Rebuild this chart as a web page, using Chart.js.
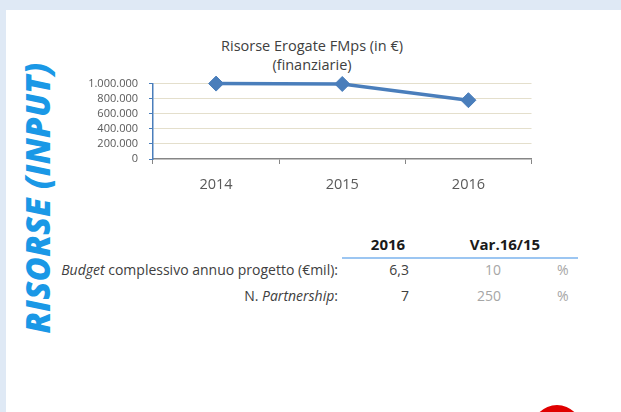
<!DOCTYPE html>
<html><head><meta charset="utf-8">
<script src="https://cdn.jsdelivr.net/npm/chart.js@4/dist/chart.umd.min.js"></script>
<style>
html,body{margin:0;padding:0;width:621px;height:412px;overflow:hidden;background:#dfe9f5;font-family:"Open Sans","Noto Sans",sans-serif;}
#panel{position:absolute;left:6px;top:10px;right:0;bottom:0;background:#fff;overflow:hidden;}
.abs{position:absolute;white-space:nowrap;}
#side{position:absolute;left:37px;top:198px;transform:translate(-50%,-50%) rotate(-90deg);font-weight:800;font-style:italic;font-size:33px;color:#1a98e6;white-space:nowrap;letter-spacing:0.3px;}
#title{position:absolute;left:162px;width:300px;top:36px;text-align:center;font-size:14.5px;line-height:19px;color:#404040;}
#chartBox{position:absolute;left:60px;top:66px;width:480px;height:133px;}
.hdr{font-weight:700;font-size:15px;color:#1a1a1a;}
.cell{font-size:14px;color:#404040;}
.gray{color:#a6a6a6;}
#hline{position:absolute;left:342px;top:257px;width:236px;height:2px;background:#9cc6f2;}
#blob{position:absolute;left:532px;top:405px;width:50px;height:50px;border-radius:50%;background:#e00000;}
</style></head>
<body>
<div id="panel"></div>
<div id="side">RISORSE (INPUT)</div>
<div id="title">Risorse Erogate FMps (in €)<br>(finanziarie)</div>
<div id="chartBox"><canvas id="c" width="480" height="133"></canvas></div>
<div id="table"></div>
<div id="hline"></div>
<div id="blob"></div>
<script>
// ---- chart data ----
const years = ['2014', '2015', '2016'];
const risorse = [1000000, 995000, 780000];
const yTickLabels = ['0', '200.000', '400.000', '600.000', '800.000', '1.000.000'];
const yMin = 0, yMax = 1000000, yStep = 200000;

// ---- table data ----
const tableHeaders = ['2016', 'Var.16/15'];
const rowLabels = ['<i>Budget</i> complessivo annuo progetto (€mil):', 'N. <i>Partnership</i>:'];
const values2016 = ['6,3', '7'];
const variations = ['10', '250'];
const varUnit = '%';

// build table
const t = document.getElementById('table');
function add(html, cls, style) {
  const d = document.createElement('div');
  d.className = 'abs ' + cls;
  d.innerHTML = html;
  Object.assign(d.style, style);
  t.appendChild(d);
}
add(tableHeaders[0], 'hdr', {left: '350px', width: '76px', textAlign: 'center', top: '234px'});
add(tableHeaders[1], 'hdr', {left: '455px', width: '100px', textAlign: 'center', top: '234px'});
const rowTops = [260, 286];
rowLabels.forEach((lab, i) => {
  add(lab, 'cell', {right: (621 - 338) + 'px', top: rowTops[i] + 'px'});
  add(values2016[i], 'cell', {right: (621 - 409) + 'px', top: rowTops[i] + 'px'});
  add(variations[i], 'cell gray', {right: (621 - 501) + 'px', top: rowTops[i] + 'px'});
  add(varUnit, 'cell gray', {left: '557px', top: rowTops[i] + 'px'});
});

// chart
const FONT = '"Open Sans","Noto Sans",sans-serif';
new Chart(document.getElementById('c'), {
  type: 'line',
  data: {
    labels: years,
    datasets: [{
      data: risorse,
      clip: false,
      borderColor: '#4a7ebb',
      backgroundColor: '#4a7ebb',
      borderWidth: 3.5,
      pointStyle: 'rectRot',
      pointRadius: 7.5,
      pointHoverRadius: 7.5,
      pointBorderWidth: 1,
      pointBorderColor: '#4a7ebb',
      pointBackgroundColor: '#4a7ebb',
      tension: 0
    }]
  },
  options: {
    responsive: false,
    animation: false,
    layout: {padding: {top: 4, right: 7, left: 0, bottom: 0}},
    plugins: {legend: {display: false}, title: {display: false}, tooltip: {enabled: false}},
    scales: {
      x: {
        offset: true,
        grid: {display: true, drawOnChartArea: false, offset: true, tickLength: 5, color: '#868686', lineWidth: 1},
        border: {display: true, color: '#868686', width: 1.5},
        ticks: {color: '#595959', font: {family: FONT, size: 14.5}, padding: 12, maxRotation: 0},
        afterFit(s) { s.height = 40; }
      },
      y: {
        min: yMin, max: yMax,
        ticks: {stepSize: yStep, autoSkip: false, callback: (v, i) => yTickLabels[i], color: '#595959', font: {family: FONT, size: 11}, padding: 11},
        grid: {
          color: (c) => (c.tick && c.tick.value === 0) ? 'rgba(0,0,0,0)' : '#e4dfcc',
          tickColor: '#4a7ebb', tickLength: 4, lineWidth: 1
        },
        border: {color: '#4a7ebb', width: 1.5},
        afterFit(s) { s.width = 93; }
      }
    }
  }
});
</script>
</body></html>
